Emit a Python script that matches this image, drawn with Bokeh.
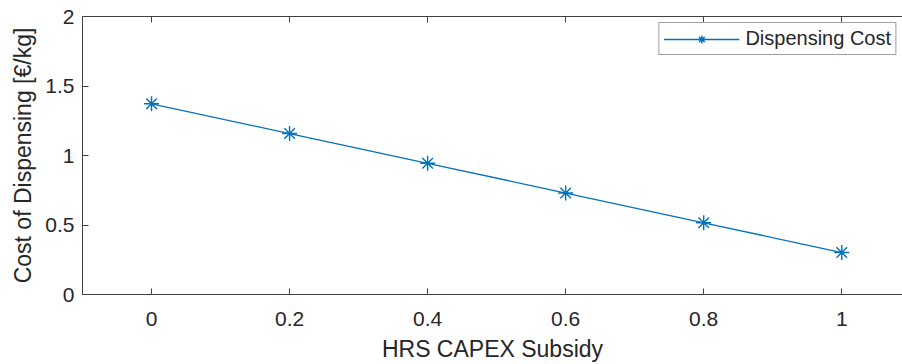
from bokeh.plotting import figure
from bokeh.models import Range1d, LinearAxis, FixedTicker, Legend, LegendItem, ColumnDataSource
from bokeh.embed import file_html
from bokeh.resources import INLINE

# HRS CAPEX subsidy share vs. resulting dispensing cost
subsidy = [0.0, 0.2, 0.4, 0.6, 0.8, 1.0]
dispensing_cost = [1.372, 1.158, 0.944, 0.730, 0.516, 0.302]

x_ticks = [0, 0.2, 0.4, 0.6, 0.8, 1]
y_ticks = [0, 0.5, 1, 1.5, 2]

FONT = "Liberation Sans"
TEXT = "#262626"
AXIS = "#404040"
BLUE = "#0072BD"

p = figure(width=902, height=364, output_backend="svg", toolbar_location=None,
           x_range=Range1d(-0.1, 1.088), y_range=Range1d(0, 2),
           min_border_left=82, min_border_right=0, min_border_top=16, min_border_bottom=68)
p.outline_line_color = None
p.grid.visible = False
p.background_fill_color = "white"

src = ColumnDataSource(dict(x=subsidy, y=dispensing_cost))
ln = p.line("x", "y", source=src, line_color=BLUE, line_width=1.3)
mk = p.scatter("x", "y", source=src, marker="asterisk", size=15, line_color=BLUE, line_width=1.4)

def style_axis(ax):
    ax.axis_line_color = AXIS
    ax.axis_line_width = 1
    ax.major_tick_line_color = AXIS
    ax.major_tick_in = 6
    ax.major_tick_out = 0
    ax.minor_tick_line_color = None
    ax.major_label_text_font = FONT
    ax.major_label_text_font_size = "21px"
    ax.major_label_text_color = TEXT
    ax.axis_label_text_font = FONT
    ax.axis_label_text_font_size = "23px"
    ax.axis_label_text_font_style = "normal"
    ax.axis_label_text_color = TEXT

xa = p.xaxis[0]
style_axis(xa)
xa.ticker = FixedTicker(ticks=x_ticks)
xa.axis_label = "HRS CAPEX Subsidy"
xa.major_label_standoff = 17
xa.axis_label_standoff = 7

ya = p.yaxis[0]
style_axis(ya)
ya.ticker = FixedTicker(ticks=y_ticks)
ya.axis_label = "Cost of Dispensing [€/kg]"
ya.major_label_standoff = 8
ya.axis_label_standoff = 6

# top box edge with inward ticks, no labels
top = LinearAxis(ticker=FixedTicker(ticks=x_ticks))
style_axis(top)
top.major_label_overrides = {t: "" for t in x_ticks}
top.major_label_text_font_size = "1px"
top.major_label_standoff = 0
p.add_layout(top, "above")

legend = Legend(items=[LegendItem(label="Dispensing Cost", renderers=[ln, mk])],
                location="top_right")
legend.label_text_font = FONT
legend.label_text_font_size = "20px"
legend.label_text_color = TEXT
legend.border_line_color = AXIS
legend.border_line_width = 1
legend.glyph_width = 76
legend.glyph_height = 20
legend.margin = 6
legend.padding = 4
legend.spacing = 0
legend.label_standoff = 6
legend.background_fill_alpha = 1
p.add_layout(legend)

open("out.html", "w").write(file_html(p, INLINE))
